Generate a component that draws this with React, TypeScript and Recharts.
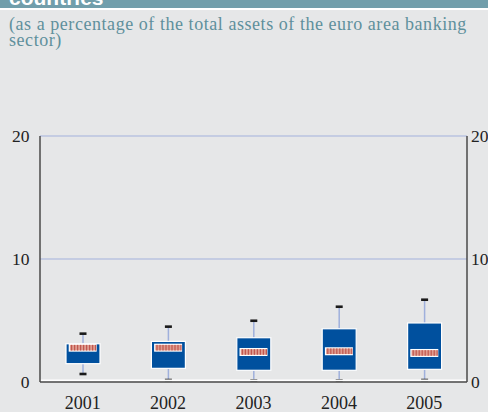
import { ComposedChart, Bar, Scatter, XAxis, YAxis, ReferenceLine } from 'recharts'

const years = ['2001', '2002', '2003', '2004', '2005']
const minValues = [0.65, 0.16, 0.13, 0.13, 0.16]
const q1Values = [1.49, 1.11, 0.95, 0.95, 1.03]
const medianValues = [2.79, 2.79, 2.44, 2.5, 2.36]
const q3Values = [3.11, 3.3, 3.6, 4.33, 4.8]
const maxValues = [3.93, 4.5, 4.98, 6.12, 6.69]
const yTicks = [0, 10, 20]

const data = years.map((year, i) => ({
  year,
  whisker: [minValues[i], maxValues[i]],
  box: [q1Values[i], q3Values[i]],
  median: medianValues[i],
}))

const BLUE = '#00509e'
const FONT = '"Liberation Serif", "Times New Roman", serif'

const WhiskerShape = (props: any) => {
  const { x, y, width, height } = props
  const cx = x + width / 2
  return (
    <g>
      <line x1={cx} x2={cx} y1={y} y2={y + height} stroke="#9fb0dc" strokeWidth={1.5} />
      <rect x={cx - 3.5} y={y - 1.3} width={7} height={2.6} fill="#1a1a1a" />
      <rect x={cx - 3.5} y={y + height - 1.3} width={7} height={2.6} fill="#1a1a1a" />
    </g>
  )
}

const BoxShape = (props: any) => {
  const { x, y, width, height } = props
  return <rect x={x} y={y} width={width} height={height} fill={BLUE} stroke="#ffffff" strokeWidth={1.2} />
}

const MedianShape = (props: any) => {
  const { cx, cy } = props
  const w = 28
  const h = 8
  const stripes = []
  for (let i = 0; i < 9; i++) {
    stripes.push(<rect key={i} x={cx - w / 2 + 2.3 + i * 3} y={cy - h / 2 + 1.2} width={1.2} height={h - 2.4} fill="#c0574f" />)
  }
  return (
    <g>
      <rect x={cx - w / 2} y={cy - h / 2} width={w} height={h} fill="#ffffff" />
      <rect x={cx - w / 2 + 1.2} y={cy - h / 2 + 1.2} width={w - 2.4} height={h - 2.4} fill="#df9c8f" />
      {stripes}
    </g>
  )
}

const ZeroLine = (props: any) => {
  const { x1, x2, y1 } = props
  return <line x1={x1} x2={x2} y1={y1 - 1.5} y2={y1 - 1.5} stroke="#ffffff" strokeWidth={2} />
}

const tickStyle = { fontFamily: FONT, fill: '#222222' }

const YearTick = (props: any) => {
  const { x, payload } = props
  return (
    <text x={x} y={408.5} textAnchor="middle" style={{ ...tickStyle, fontSize: 18 }}>
      {payload.value}
    </text>
  )
}

const LeftTick = (props: any) => {
  const { y, payload } = props
  return (
    <text x={29.5} y={y + 6} textAnchor="end" style={{ ...tickStyle, fontSize: 17.5 }}>
      {payload.value}
    </text>
  )
}

const RightTick = (props: any) => {
  const { y, payload } = props
  return (
    <text x={471} y={y + 6} textAnchor="start" style={{ ...tickStyle, fontSize: 17.5 }}>
      {payload.value}
    </text>
  )
}

export default function App() {
  return (
    <div style={{ position: 'absolute', left: 0, top: 0, width: 488, height: 412, background: '#e6e7e8', overflow: 'hidden' }}>
      <div style={{ position: 'absolute', left: 0, top: 0, width: 488, height: 8, background: '#719eab', overflow: 'hidden' }}>
        <div style={{ position: 'absolute', left: 9, top: -14, color: '#ffffff', fontFamily: '"Liberation Sans", Arial, sans-serif', fontWeight: 'bold', fontSize: 21 }}>
          countries
        </div>
      </div>
      <div style={{ position: 'absolute', left: 0, top: 8, width: 488, height: 2, background: '#ffffff' }} />
      <div style={{ position: 'absolute', left: 9, top: 15.5, width: 470, fontFamily: FONT, fontSize: 18, letterSpacing: 0.55, lineHeight: '16px', color: '#5f909c' }}>
        (as a percentage of the total assets of the euro area banking sector)
      </div>
      <div style={{ position: 'absolute', left: 0, top: 0 }}>
        <ComposedChart width={488} height={412} data={data} margin={{ top: 136, right: 0, bottom: 0, left: 0 }}>
          <XAxis
            xAxisId="a"
            dataKey="year"
            height={30}
            axisLine={{ stroke: '#4a4a4a', strokeWidth: 1.5 }}
            tickLine={false}
            tick={<YearTick />}
          />
          <XAxis xAxisId="b" dataKey="year" hide />
          <YAxis
            yAxisId="left"
            domain={[0, 20]}
            ticks={yTicks}
            width={40}
            axisLine={{ stroke: '#4a4a4a', strokeWidth: 1.5 }}
            tickLine={false}
            tick={<LeftTick />}
          />
          <YAxis
            yAxisId="right"
            orientation="right"
            domain={[0, 20]}
            ticks={yTicks}
            width={21}
            axisLine={{ stroke: '#4a4a4a', strokeWidth: 1.5 }}
            tickLine={false}
            tick={<RightTick />}
          />
          <ReferenceLine xAxisId="a" yAxisId="left" y={10} stroke="#a3b1dc" strokeWidth={1} />
          <ReferenceLine xAxisId="a" yAxisId="left" y={20} stroke="#a3b1dc" strokeWidth={1} />
          <ReferenceLine xAxisId="a" yAxisId="left" y={0} shape={ZeroLine} />
          <Bar xAxisId="a" yAxisId="left" dataKey="whisker" barSize={34} shape={WhiskerShape} isAnimationActive={false} />
          <Bar xAxisId="b" yAxisId="left" dataKey="box" barSize={34} shape={BoxShape} isAnimationActive={false} />
          <Scatter xAxisId="a" yAxisId="right" dataKey="median" shape={MedianShape} isAnimationActive={false} />
        </ComposedChart>
      </div>
    </div>
  )
}
